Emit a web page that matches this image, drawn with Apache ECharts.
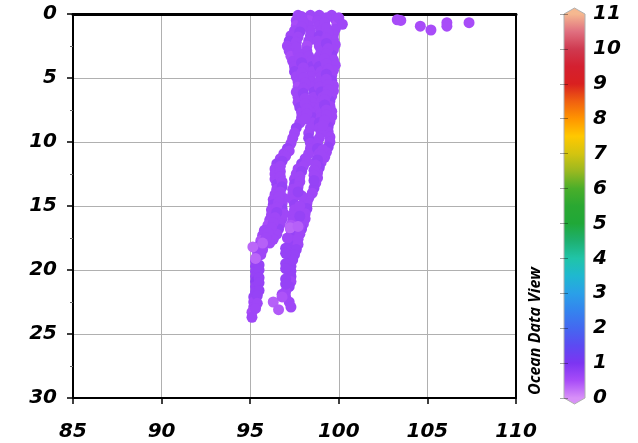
<!DOCTYPE html>
<html>
<head>
<meta charset="utf-8">
<script src="https://cdn.jsdelivr.net/npm/echarts@6/dist/echarts.min.js"></script>
<style>html,body{margin:0;padding:0;background:#fff;}#chart{width:638px;height:443px;}</style>
</head>
<body>
<div id="chart"></div>
<script>
// Axis ticks
const xTicks = [85, 90, 95, 100, 105, 110];
const yTicks = [0, 5, 10, 15, 20, 25, 30];
const colorbarTicks = [0,1,2,3,4,5,6,7,8,9,10,11];
// Colour scale (values 0..11 every 0.5)
const colorScaleColors = ['#d890f8','#a84cf8','#7c35f2','#5c4af2','#4468f0','#3484ee','#2aa0e8','#1fb8d0','#20c4a8','#1eb070','#20a838','#2aa832','#4aae2a','#9ab820','#d4c410','#ffc800','#ff9500','#f06010','#d92020','#d42030','#cf3a50','#e07080','#f5b890'];

// Data: [longitude, depth, value]
const profileA = [[97.7,0.1,0.6],[97.6,0.5,0.6],[97.6,0.9,0.5],[97.5,1.3,0.6],[97.3,1.7,0.6],[97.2,2.1,0.7],[97.1,2.5,0.6],[97.2,2.9,0.6],[97.3,3.3,0.5],[97.4,3.7,0.6],[97.5,4.1,0.6],[97.5,4.5,0.7],[97.6,4.9,0.6],[97.7,5.3,0.6],[97.7,5.7,0.5],[97.6,6.1,0.6],[97.7,6.5,0.6],[97.7,6.9,0.6],[97.8,7.3,0.7],[97.9,7.7,0.6],[97.9,8.1,0.6],[97.8,8.5,0.6],[97.6,8.9,0.7],[97.5,9.3,0.6],[97.4,9.7,0.6],[97.3,10.1,0.6],[97.1,10.5,0.7],[96.9,10.9,0.6],[96.7,11.3,0.6],[96.5,11.7,0.7],[96.4,12.1,0.6],[96.4,12.5,0.6],[96.4,12.9,0.6],[96.5,13.3,0.7],[96.5,13.7,0.6],[96.4,14.1,0.6],[96.3,14.5,0.6],[96.3,14.9,0.7],[96.2,15.3,0.6],[96.2,15.7,0.6],[96.1,16.1,0.6],[96.0,16.5,0.5],[95.8,16.9,0.6],[95.7,17.3,0.6],[95.6,17.7,0.45],[95.5,18.1,0.6],[95.4,18.5,0.6],[95.4,18.9,0.6],[95.3,19.3,0.7],[95.3,19.7,0.7],[95.3,20.1,0.7],[95.3,20.5,0.7],[95.3,20.9,0.8],[95.3,21.3,0.7],[95.3,21.7,0.7],[95.2,22.1,0.7],[95.2,22.5,0.6],[95.2,22.9,0.6],[95.1,23.3,0.5],[95.1,23.7,0.6]];
const profileB = [[98.4,0.1,0.6],[98.3,0.5,0.5],[98.3,0.9,0.6],[98.4,1.3,0.6],[98.4,1.7,0.6],[98.3,2.1,0.6],[98.2,2.5,0.5],[98.2,2.9,0.6],[98.3,3.3,0.6],[98.4,3.7,0.6],[98.5,4.1,0.7],[98.5,4.5,0.6],[98.4,4.9,0.6],[98.4,5.3,0.6],[98.5,5.7,0.6],[98.6,6.1,0.7],[98.6,6.5,0.6],[98.5,6.9,0.6],[98.5,7.3,0.6],[98.6,7.7,0.6],[98.6,8.1,0.7],[98.5,8.5,0.6],[98.4,8.9,0.6],[98.3,9.3,0.6],[98.3,9.7,0.7],[98.4,10.1,0.6],[98.4,10.5,0.6],[98.3,10.9,0.6],[98.1,11.3,0.6],[97.9,11.7,0.7],[97.7,12.1,0.6],[97.6,12.5,0.6],[97.5,12.9,0.6],[97.5,13.3,0.7],[97.4,13.7,0.6],[97.4,14.1,0.6],[97.4,14.5,0.6],[97.5,14.9,0.7],[97.5,15.3,0.6],[97.4,15.7,0.6],[97.4,16.1,0.6],[97.3,16.5,0.45],[97.3,16.9,0.6],[97.4,17.3,0.7],[97.4,17.7,0.6],[97.3,18.1,0.7],[97.3,18.5,0.7],[97.3,18.9,0.7],[97.2,19.3,0.8],[97.3,19.7,0.7],[97.3,20.1,0.7],[97.3,20.5,0.7],[97.3,20.9,0.6],[97.2,21.3,0.7],[97.0,21.7,0.6],[97.0,22.1,0.6],[97.2,22.5,0.6],[97.3,22.9,0.6]];
const profileC = [[99.6,0.1,0.6],[99.8,0.4,0.6],[99.9,0.8,0.5],[99.8,1.2,0.6],[99.7,1.6,0.6],[99.7,2.0,0.6],[99.8,2.4,0.6],[99.7,2.8,0.6],[99.6,3.2,0.7],[99.7,3.6,0.6],[99.8,4.0,0.6],[99.7,4.4,0.6],[99.6,4.8,0.6],[99.6,5.2,0.7],[99.7,5.6,0.6],[99.7,6.0,0.6],[99.6,6.4,0.6],[99.5,6.8,0.7],[99.5,7.2,0.6],[99.6,7.6,0.6],[99.6,8.0,0.6],[99.5,8.4,0.6],[99.4,8.8,0.7],[99.4,9.2,0.6],[99.5,9.6,0.6],[99.5,10.0,0.6],[99.4,10.4,0.7],[99.3,10.8,0.6],[99.2,11.2,0.6],[99.0,11.6,0.6],[98.9,12.0,0.7],[98.8,12.4,0.6],[98.8,12.8,0.6],[98.7,13.2,0.6],[98.6,13.6,0.7],[98.5,14.0,0.6],[98.3,14.4,0.6],[98.2,14.8,0.6],[98.2,15.2,0.7],[98.1,15.6,0.6],[98.1,16.0,0.6],[98.0,16.4,0.6],[97.9,16.8,0.7],[97.8,17.2,0.6],[97.7,17.6,0.6],[97.7,18.0,0.6],[97.6,18.4,0.7],[97.5,18.8,0.7],[97.4,19.2,0.7]];
const profileD = [[97.9,0.2,0.6],[98.0,0.6,0.6],[97.9,1.0,0.6],[97.8,1.4,0.7],[97.7,1.8,0.6],[97.6,2.2,0.6],[97.6,2.6,0.6],[97.7,3.0,0.6],[97.8,3.4,0.6],[97.9,3.8,0.7],[98.0,4.2,0.6],[97.9,4.6,0.6],[98.0,5.0,0.6],[98.1,5.4,0.6],[98.0,5.8,0.6],[98.0,6.2,0.7],[98.1,6.6,0.6],[98.1,7.0,0.6],[98.2,7.4,0.6],[98.2,7.8,0.6],[98.1,8.2,0.6]];
const profileE = [[98.9,0.1,0.6],[98.8,0.5,0.6],[98.9,0.9,0.6],[99.0,1.3,0.6],[98.9,1.7,0.7],[98.8,2.1,0.6],[98.9,2.5,0.6],[99.0,2.9,0.6],[98.9,3.3,0.6],[98.8,3.7,0.6],[98.9,4.1,0.7],[99.0,4.5,0.6],[99.0,4.9,0.6],[98.9,5.3,0.6],[98.9,5.7,0.6],[99.0,6.1,0.7],[99.1,6.5,0.6],[99.0,6.9,0.6],[98.9,7.3,0.6],[99.0,7.7,0.6],[99.0,8.1,0.6],[98.9,8.5,0.7],[98.9,8.9,0.6],[99.0,9.3,0.6],[98.9,9.7,0.6],[98.8,10.1,0.6],[98.8,10.5,0.7],[98.9,10.9,0.6],[98.8,11.3,0.6]];
const profileF = [[99.3,0.3,0.6],[99.2,0.7,0.6],[99.3,1.1,0.6],[99.4,1.5,0.6],[99.3,1.9,0.6],[99.3,2.3,0.7],[99.4,2.7,0.6],[99.3,3.1,0.6],[99.2,3.5,0.6],[99.3,3.9,0.6],[99.4,4.3,0.6],[99.3,4.7,0.7],[99.3,5.1,0.6],[99.4,5.5,0.6],[99.4,5.9,0.6],[99.3,6.3,0.6],[99.2,6.7,0.6],[99.2,7.1,0.7],[99.3,7.5,0.6],[99.3,7.9,0.6],[99.2,8.3,0.6],[99.1,8.7,0.6]];
const profileG = [[96.9,14.4,0.6],[96.8,14.8,0.6],[96.8,15.2,0.7],[96.9,15.6,0.6],[96.8,16.0,0.6],[96.7,16.4,0.6],[96.6,16.8,0.7],[96.5,17.2,0.6],[96.3,17.6,0.6],[96.1,17.9,0.6],[97.9,14.2,0.6],[97.8,15.0,0.6],[97.8,15.8,0.7],[97.8,16.6,0.6]];
const profileH = [[97.2,10.7,0.6],[97.0,11.1,0.6],[96.8,11.5,0.7],[96.7,11.9,0.6],[96.7,12.3,0.6],[96.7,12.7,0.6],[96.8,13.1,0.6],[96.8,13.5,0.7],[96.7,13.9,0.6],[96.6,14.3,0.6],[96.6,14.7,0.6],[96.5,15.1,0.6],[96.5,15.5,0.7],[96.4,15.9,0.6],[96.3,16.3,0.6],[96.2,16.7,0.6],[96.0,17.1,0.6],[95.9,17.5,0.6],[95.7,18.4,0.6],[95.6,18.8,0.6],[95.5,19.6,0.7],[95.5,20.0,0.7],[95.5,20.6,0.7],[95.5,21.0,0.7],[95.5,21.6,0.7],[95.4,22.0,0.7],[95.4,22.6,0.6],[95.3,23.0,0.6]];
const profileI = [[97.1,17.5,0.6],[97.0,18.3,0.7],[97.0,18.7,0.7],[97.0,19.5,0.7],[97.0,19.9,0.7],[97.0,20.7,0.7],[97.0,21.1,0.7],[96.8,21.9,0.6]];
const profileJ = [[98.2,11.5,0.6],[98.0,11.9,0.6],[97.9,12.3,0.7],[97.8,12.7,0.6],[97.8,13.1,0.6],[97.7,13.5,0.6],[97.7,13.9,0.7]];
const profileK = [[99.1,10.6,0.6],[99.0,11.0,0.6],[98.8,11.4,0.7],[98.7,11.8,0.6],[98.6,12.2,0.6],[98.6,12.6,0.6],[98.6,13.0,0.7]];
const isolatedPoints = [[95.15,18.2,0.3],[95.3,19.1,0.3],[95.7,17.9,0.35],[97.25,16.7,0.3],[97.7,16.6,0.35],[96.3,22.5,0.35],[96.6,23.1,0.4],[96.8,22.1,0.45],[100.0,0.3,0.6],[100.2,0.8,0.6]];
const surfacePoints = [[103.3,0.45,0.5],[103.5,0.5,0.5],[104.6,0.95,0.5],[105.2,1.25,0.5],[106.1,0.68,0.5],[106.1,0.95,0.5],[107.35,0.68,0.5]];

const allPoints = [].concat(profileA, profileB, profileC, profileD, profileE, profileF, profileG, profileH, profileI, profileJ, profileK, isolatedPoints, surfacePoints);

const labelFont = {fontFamily:'DejaVu Sans', fontWeight:'bold', fontStyle:'italic', fontSize:20, color:'#000'};

const chart = echarts.init(document.getElementById('chart'), null, {renderer:'canvas'});

const cbStops = colorScaleColors.map((c, i) => ({offset: 1 - (i * 0.5) / 11, color: c})).reverse();

const option = {
  animation: false,
  backgroundColor: '#fff',
  grid: [
    {left: 73, top: 14, width: 443, height: 384},
    {left: 564, top: 14, width: 21, height: 384}
  ],
  xAxis: [
    {gridIndex:0, type:'value', min:xTicks[0], max:xTicks[xTicks.length-1], interval:5, position:'bottom',
     axisLine:{onZero:false, lineStyle:{color:'#000', width:2}},
     axisTick:{length:6, lineStyle:{color:'#000', width:1.5}},
     axisLabel:Object.assign({margin:24}, labelFont),
     splitLine:{show:true, lineStyle:{color:'#b0b0b0', width:1}}},
    {gridIndex:0, type:'value', min:xTicks[0], max:xTicks[xTicks.length-1], position:'top',
     axisLine:{onZero:false, lineStyle:{color:'#000', width:3}},
     axisTick:{show:false}, axisLabel:{show:false}, splitLine:{show:false}},
    {gridIndex:1, type:'value', min:0, max:1, show:false}
  ],
  yAxis: [
    {gridIndex:0, type:'value', inverse:true, min:yTicks[0], max:yTicks[yTicks.length-1], interval:5,
     axisLine:{onZero:false, lineStyle:{color:'#000', width:2}},
     axisTick:{length:6, lineStyle:{color:'#000', width:1.5}},
     minorTick:{show:true, splitNumber:2, length:3, lineStyle:{color:'#666', width:1}},
     axisLabel:Object.assign({margin:16}, labelFont),
     splitLine:{show:true, lineStyle:{color:'#b0b0b0', width:1}}},
    {gridIndex:0, type:'value', inverse:true, min:0, max:30, position:'right',
     axisLine:{onZero:false, lineStyle:{color:'#000', width:2}},
     axisTick:{show:false}, axisLabel:{show:false}, splitLine:{show:false}},
    {gridIndex:1, type:'value', min:colorbarTicks[0], max:colorbarTicks[colorbarTicks.length-1], interval:1, position:'right', z:10,
     axisLine:{show:false},
     axisTick:{inside:true, length:4, lineStyle:{color:'rgba(0,0,0,0.35)', width:1}},
     axisLabel:Object.assign({margin:8}, labelFont),
     splitLine:{show:false}},
    {gridIndex:1, type:'value', min:0, max:11, interval:1, position:'left', z:10,
     axisLine:{show:false},
     axisTick:{inside:true, length:4, lineStyle:{color:'rgba(0,0,0,0.35)', width:1}},
     axisLabel:{show:false}, splitLine:{show:false}}
  ],
  visualMap: {
    type:'continuous', show:false, min:0, max:11, dimension:2, seriesIndex:0,
    inRange:{color: colorScaleColors}
  },
  series: [
    {type:'scatter', xAxisIndex:0, yAxisIndex:0, symbol:'circle', symbolSize:11, data: allPoints, itemStyle:{opacity:1}},
    {type:'custom', xAxisIndex:2, yAxisIndex:2, clip:false, silent:true, z:3,
     data:[[0, 11]],
     renderItem: function(params, api) {
       const tl = api.coord([0, 11]);
       const br = api.coord([1, 0]);
       const cx = (tl[0] + br[0]) / 2;
       const tip = 6;
       return {
         type:'polygon',
         shape:{points:[[tl[0], tl[1]], [cx, tl[1]-tip], [br[0], tl[1]], [br[0], br[1]], [cx, br[1]+tip], [tl[0], br[1]]]},
         style:{fill: new echarts.graphic.LinearGradient(0, tl[1], 0, br[1], cbStops, true), stroke:'#b0b0b0', lineWidth:1}
       };
     }}
  ],
  graphic: [
    {type:'text', x:535, y:331, rotation:Math.PI/2,
     style:{text:'Ocean Data View', font:'italic bold 16px "Open Sans"', fill:'#000', align:'center', verticalAlign:'middle'}}
  ]
};
chart.setOption(option);
</script>
</body>
</html>
